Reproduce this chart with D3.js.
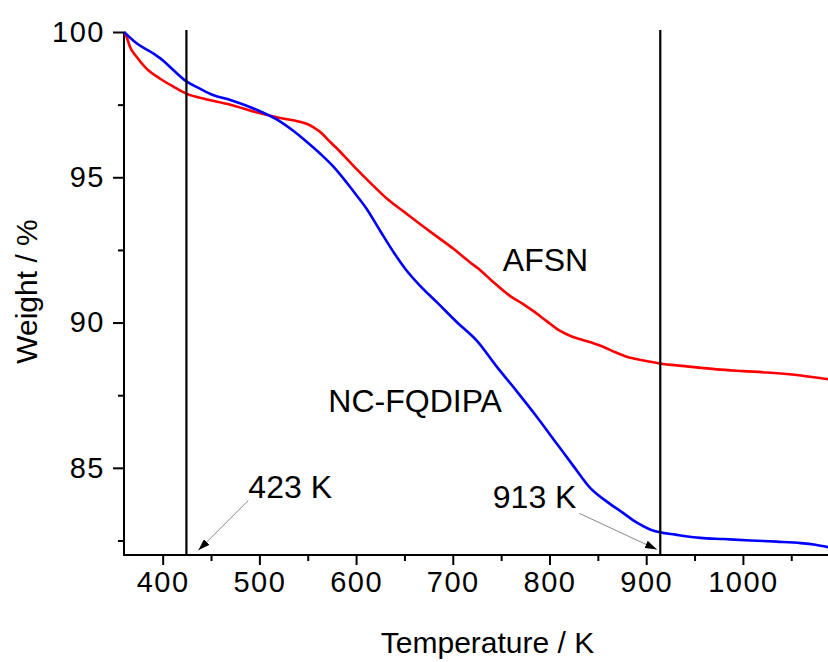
<!DOCTYPE html>
<html><head><meta charset="utf-8">
<script src="https://cdn.jsdelivr.net/npm/d3@7/dist/d3.min.js"></script>
<style>body{margin:0;background:#fff}svg{display:block}text{font-family:"Liberation Sans",Arial,sans-serif;fill:#000}</style>
</head><body>
<svg id="c" width="828" height="662"></svg>
<script>
const afsnT = [360,363,366,373,383,397,411,425,442,470,500,520,535,548,556,565,570,580,597,615,632,650,666,684,701,718,727,740,759,772,783,797,811,823,835,846,856,868,880,896,914,940,973,1000,1025,1060,1088];
const afsnW = [100,99.8,99.5,99.15,98.75,98.4,98.12,97.87,97.71,97.5,97.21,97.05,96.96,96.85,96.72,96.5,96.32,96.0,95.40,94.8,94.26,93.8,93.39,92.95,92.53,92.07,91.84,91.45,90.92,90.65,90.40,90.05,89.71,89.52,89.39,89.28,89.16,88.98,88.82,88.70,88.59,88.50,88.39,88.33,88.28,88.18,88.05];
const ncT = [360,373,390,400,411,425,438,452,470,500,520,535,548,563,577,590,600,611,625,639,652,666,685,704,725,745,766,787,808,825,842,860,876,890,904,914,930,956,980,1008,1035,1060,1075,1088];
const ncW = [100,99.61,99.27,99.03,98.69,98.29,98.06,97.83,97.66,97.28,96.95,96.6,96.25,95.81,95.35,94.83,94.4,93.91,93.15,92.41,91.8,91.27,90.65,90.02,89.37,88.5,87.64,86.75,85.81,85.05,84.31,83.82,83.45,83.12,82.88,82.78,82.70,82.59,82.55,82.50,82.46,82.41,82.35,82.27];
const xMajor = [400,500,600,700,800,900,1000];
const xMinor = [450,550,650,750,850,950,1050];
const yMajor = [85,90,95,100];
const yMinor = [82.5,87.5,92.5,97.5];
const markerT = [423,913];
const labels = [
  {text:"AFSN", t:751.7, w:91.78},
  {text:"NC-FQDIPA", t:571.3, w:86.92},
  {text:"423 K", t:488.6, w:83.97},
  {text:"913 K", t:741.4, w:83.61}
];
const arrows = [
  {t0:488.6, w0:83.88, t1:436.9, w1:82.16},
  {t0:831, w0:83.43, t1:911.1, w1:82.19}
];

const svg = d3.select("#c");
const x = d3.scaleLinear().domain([360,1088]).range([124,828]);
const y = d3.scaleLinear().domain([82,100]).range([555,32]);

svg.append("defs").append("clipPath").attr("id","clip")
  .append("rect").attr("x",124).attr("y",0).attr("width",704).attr("height",555);
const mk = svg.select("defs").append("marker").attr("id","ah")
  .attr("viewBox","0 0 12 8").attr("refX",12).attr("refY",4)
  .attr("markerWidth",12).attr("markerHeight",8).attr("markerUnits","userSpaceOnUse")
  .attr("orient","auto");
mk.append("path").attr("d","M0,0 L12,4 L0,8 Z").attr("fill","#000");

// axes
const xAx = svg.append("g").attr("transform","translate(0,555)")
  .call(d3.axisBottom(x).tickValues(xMajor).tickSize(10).tickPadding(6).tickFormat(d3.format("d")));
const xMin = svg.append("g").attr("transform","translate(0,555)")
  .call(d3.axisBottom(x).tickValues(xMinor).tickSize(6).tickFormat(""));
const yAx = svg.append("g").attr("transform","translate(124,0)")
  .call(d3.axisLeft(y).tickValues(yMajor).tickSize(11).tickPadding(8).tickFormat(d3.format("d")));
const yMin = svg.append("g").attr("transform","translate(124,0)")
  .call(d3.axisLeft(y).tickValues(yMinor).tickSize(6).tickFormat(""));
[xAx,xMin,yAx,yMin].forEach(g=>{
  g.select(".domain").remove();
  g.selectAll(".tick line").attr("stroke","#000").attr("stroke-width",2);
  g.selectAll(".tick text").style("font-size","29px").style("letter-spacing","1.5px")
   .style("font-family","'Liberation Sans',Arial,sans-serif").attr("fill","#000");
});
svg.append("line").attr("x1",x.range()[0]).attr("x2",x.range()[1]).attr("y1",555).attr("y2",555)
  .attr("stroke","#000").attr("stroke-width",2);
svg.append("line").attr("x1",124).attr("x2",124).attr("y1",y(100)).attr("y2",556)
  .attr("stroke","#000").attr("stroke-width",2);

// curves
const line = d3.line().x(d=>x(d[0])).y(d=>y(d[1])).curve(d3.curveMonotoneX);
const plot = svg.append("g").attr("clip-path","url(#clip)");
plot.append("path").datum(d3.zip(afsnT,afsnW)).attr("d",line)
  .attr("fill","none").attr("stroke","#ff0000").attr("stroke-width",2.6);
plot.append("path").datum(d3.zip(ncT,ncW)).attr("d",line)
  .attr("fill","none").attr("stroke","#0000ff").attr("stroke-width",2.6);

// vertical markers
svg.selectAll("line.vm").data(markerT).enter().append("line").attr("class","vm")
  .attr("x1",d=>x(d)+1.5).attr("x2",d=>x(d)+1.5).attr("y1",30).attr("y2",555)
  .attr("stroke","#000").attr("stroke-width",2.2);

// arrows
svg.selectAll("line.ar").data(arrows).enter().append("line").attr("class","ar")
  .attr("x1",d=>x(d.t0)).attr("y1",d=>y(d.w0)).attr("x2",d=>x(d.t1)).attr("y2",d=>y(d.w1))
  .attr("stroke","#888").attr("stroke-width",1).attr("marker-end","url(#ah)");

// labels
svg.selectAll("text.lb").data(labels).enter().append("text").attr("class","lb")
  .attr("x",d=>x(d.t)).attr("y",d=>y(d.w)).style("font-size","32px").text(d=>d.text);

// titles
svg.append("text").attr("x",487.5).attr("y",653).attr("text-anchor","middle")
  .style("font-size","30px").text("Temperature / K");
svg.append("text").attr("transform","translate(37,291.5) rotate(-90)").attr("text-anchor","middle")
  .style("font-size","30px").text("Weight / %");
</script>
</body></html>
